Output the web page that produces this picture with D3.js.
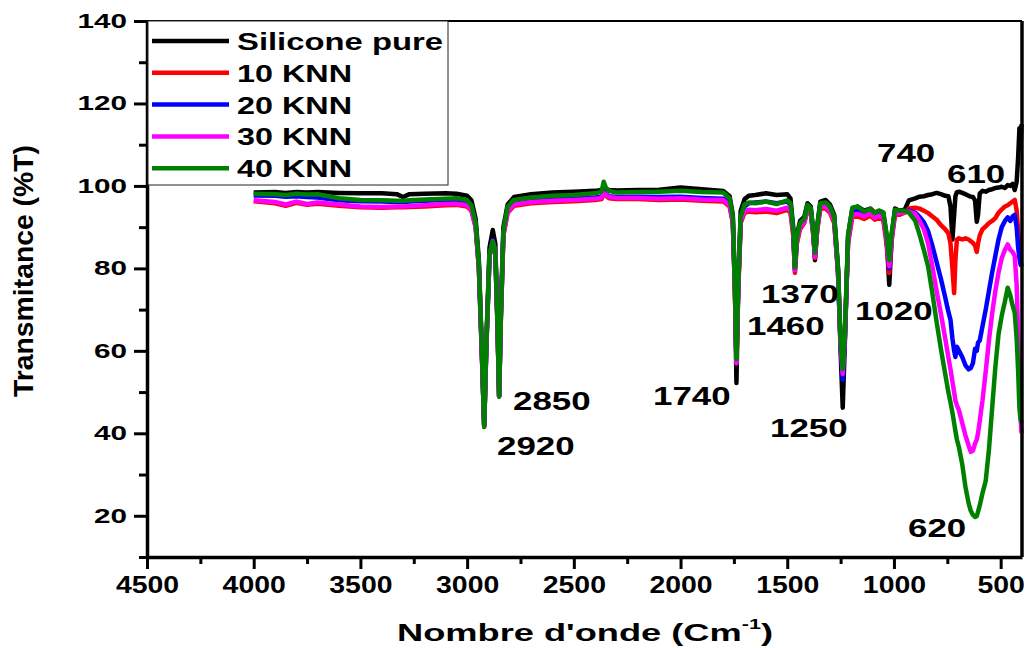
<!DOCTYPE html>
<html>
<head>
<meta charset="utf-8">
<script src="https://cdn.jsdelivr.net/npm/d3@7"></script>
<style>
	body { margin: 0; background: #fff; }
	svg { display: block; }
	text { font-family: "Liberation Sans", Arial, sans-serif; font-weight: bold; fill: #000; }
</style>
</head>
<body>
<svg id="chart" width="1029" height="648"></svg>
<script>
// wavenumber grid shared by all spectra (cm-1)
var wn = [
	4000, 3900, 3850, 3800, 3750, 3700, 3600, 3500, 3400, 3330,
	3300, 3270, 3200, 3100, 3050, 3000, 2980, 2960, 2945, 2932,
	2920, 2910, 2895, 2880, 2868, 2858, 2850, 2842, 2830, 2810,
	2780, 2700, 2600, 2500, 2400, 2370, 2360, 2350, 2335, 2300,
	2200, 2100, 2000, 1900, 1800, 1770, 1755, 1745, 1738, 1730,
	1718, 1700, 1680, 1650, 1600, 1550, 1500, 1485, 1472, 1464,
	1455, 1440, 1420, 1405, 1390, 1378, 1370, 1360, 1345, 1320,
	1300, 1280, 1262, 1250, 1240, 1230, 1215, 1195, 1170, 1140,
	1110, 1090, 1070, 1050, 1035, 1022, 1010, 995, 975, 950,
	930, 900, 880, 860, 840, 820, 800, 780, 760, 745,
	735, 726, 718, 712, 705, 695, 680, 665, 650, 640,
	630, 620, 612, 606, 598, 585, 570, 555, 540, 525,
	510, 495, 480, 467, 455, 444, 434, 425, 418, 412,
	407, 402
];

// transmittance (%T)
var pure = [
	98.4, 98.5, 98.3, 98.5, 98.4, 98.5, 98.3, 98.2, 98.2, 98.0,
	97.3, 98.0, 98.1, 98.2, 98.1, 97.6, 96.5, 92, 82, 62,
	42, 62, 85, 89.3, 86, 68, 49, 70, 90, 95.5,
	97.3, 98.0, 98.4, 98.6, 98.8, 99, 99.5, 99.3, 99, 98.9,
	99.0, 99.1, 99.6, 99.2, 98.8, 97.5, 93, 75, 52.2, 75,
	94, 96.8, 97.6, 97.8, 98.2, 97.8, 98.0, 97, 90, 80.5,
	88, 91.5, 92.5, 95.8, 95, 89, 82, 90, 96.2, 96.6,
	95.5, 93, 80, 60, 46.2, 62, 88, 94.5, 95, 94,
	94.5, 93.5, 94, 93.5, 88, 76, 88, 94.5, 94, 94.2,
	96.5, 97, 97.4, 97.5, 97.8, 98, 98.3, 98, 97.6, 97.5,
	95, 87, 93, 97.5, 98.5, 98.6, 98.3, 98, 97.6, 97.4,
	97.3, 96.5, 91.3, 93, 98.2, 98.8, 98.6, 99, 99.2, 99.5,
	99.6, 99.8, 99.5, 100.2, 100, 100.5, 99, 101, 107, 114,
	109, 115
];
var knn10 = [
	96.3, 95.8, 95.2, 95.9, 95.4, 95.7, 95.2, 94.8, 94.7, 94.8,
	94.8, 94.9, 95.0, 95.3, 95.4, 95.0, 94, 90, 80, 61,
	41.8, 61, 83, 86.5, 84, 67, 49, 68, 88, 93.5,
	95.2, 95.8, 96.1, 96.3, 96.6, 96.8, 98, 97.6, 97, 96.8,
	96.8, 96.6, 96.7, 96.4, 96.2, 95, 91, 74, 57, 74,
	91, 93.5, 93.8, 93.6, 93.8, 93.4, 94.2, 93.5, 88, 78.9,
	86, 89.5, 91, 94.2, 93.5, 88, 82.5, 89, 94.5, 94.5,
	93.5, 91, 79, 62, 54.5, 64, 86, 92.5, 92.6, 92,
	92.8, 91.8, 92.3, 91.8, 86, 78.9, 87, 93, 93, 93.5,
	94.5, 94.7, 94.5, 94, 93.4, 92.6, 91.8, 90.5, 89.5, 88.5,
	86, 80, 74, 82, 87, 87.3, 87, 87.3, 87, 86.6,
	86.2, 85.5, 84, 86, 88, 89.5, 90.2, 91, 91.5, 92.2,
	93.5, 94.3, 95, 95.3, 95.8, 96.2, 96.6, 94, 89, 85,
	82, 80.5
];
var knn20 = [
	97.7, 97.6, 97.4, 97.5, 97.3, 97.2, 96.5, 96.3, 96.2, 96.1,
	96.1, 96.2, 96.4, 96.6, 96.7, 96.3, 95, 90.5, 80.5, 61,
	41.8, 61, 83, 86.8, 84, 67, 49, 68, 88.5, 94.5,
	96, 96.5, 96.8, 97, 97.2, 97.4, 98.5, 98, 97.5, 97.3,
	97.4, 97.3, 97.4, 97.1, 96.9, 95.8, 91.5, 75, 57.2, 75,
	92, 95, 95.8, 96, 96.2, 95.8, 96.2, 95.5, 89, 79.5,
	87, 90.5, 91.5, 95, 94.2, 88.5, 83, 89.5, 95.5, 95.7,
	94.5, 92, 79, 61, 53, 63, 87, 93.8, 94.2, 93.3,
	93.8, 92.8, 93.3, 92.8, 87.5, 80, 88, 93.8, 93.6, 93.8,
	94, 93.5, 92.5, 91.2, 89, 85.5, 81.5, 77.5, 73, 69.5,
	67.5, 63, 60, 58.5, 61, 60, 58.5, 56.5, 55.5, 55.8,
	57, 60.5, 60, 62, 62.5, 66, 70, 74.5, 79, 83,
	87, 90, 91.5, 92.4, 91.5, 92.6, 93, 90, 85, 82.5,
	81, 80.5
];
var knn30 = [
	96.5, 96.1, 95.5, 96.2, 95.6, 96, 95.5, 95, 94.9, 95,
	95, 95.1, 95.3, 95.6, 95.7, 95.3, 94.2, 90, 80, 61,
	41.8, 61, 83, 86.6, 84, 67, 49, 68, 88, 93.8,
	95.5, 96.1, 96.4, 96.6, 96.9, 97.1, 98.3, 97.8, 97.3, 97.1,
	97.1, 96.9, 97, 96.7, 96.6, 95.3, 91.2, 74.5, 57, 74.5,
	91.5, 94, 94.2, 94.1, 94.4, 94, 94.7, 94, 88.5, 79.5,
	86.5, 90, 91.2, 94.6, 93.8, 88.2, 82.8, 89.2, 95, 95,
	94, 91.5, 79, 61.5, 54.4, 63.5, 86.5, 93, 93.2, 92.6,
	93.3, 92.3, 92.8, 92.3, 87, 80.5, 87.5, 93.5, 93.4, 93.6,
	93.8, 93.2, 91.5, 89.5, 86, 80.5, 74.5, 69, 63, 58.5,
	55.5, 52.5, 50, 48, 46.8, 45.5, 42.5, 39.5, 37, 35.5,
	35.8, 37.5, 38.5, 40, 43, 48, 55, 62.5, 69, 74.5,
	79, 82.5, 84.5, 85.8, 84.5, 84, 83, 76, 64, 52,
	44, 40
];
var knn40 = [
	98.1, 98.0, 97.8, 98.1, 97.9, 98.0, 97, 96.6, 96.5, 96.4,
	96.4, 96.5, 96.7, 96.9, 97, 96.6, 95.3, 91, 81, 61.5,
	41.5, 61.5, 83.5, 86.5, 84, 67, 48.9, 68, 89, 95,
	96.6, 97.2, 97.6, 97.8, 98.2, 98.6, 101, 99.6, 98.8, 98.4,
	98.5, 98.6, 98.8, 98.5, 98.4, 97, 92.5, 75.5, 58, 75.5,
	92.5, 95.5, 96, 95.8, 96.2, 95.6, 96.5, 95.8, 89.5, 80.2,
	87.5, 91, 92, 95.4, 94.6, 89, 83.8, 90, 95.8, 96,
	95, 92.5, 80, 62.5, 55.6, 64.5, 88, 94.7, 95, 93.8,
	94.4, 93.4, 94, 93.6, 88.5, 82, 89, 94.2, 94, 94,
	93.5, 91.5, 88.2, 84.5, 80.5, 74, 67, 60.5, 54.5, 50,
	47.5, 45, 42.5, 40.5, 38.5, 36.5, 32.5, 27, 23, 21.2,
	20.2, 19.7, 19.9, 21, 22.5, 25.5, 28.5, 36, 46, 56,
	64, 68.5, 72, 75.3, 73.5, 71, 69.2, 63, 55, 46,
	43.5, 42.5
];

var seriesNames = ['Silicone pure', '10 KNN', '20 KNN', '30 KNN', '40 KNN'];
var seriesColors = ['#000000', '#ff0000', '#0000ff', '#ff00ff', '#008000'];
var seriesValues = [pure, knn10, knn20, knn30, knn40];

var xTicks = [4500, 4000, 3500, 3000, 2500, 2000, 1500, 1000, 500];
var xMinor = [4250, 3750, 3250, 2750, 2250, 1750, 1250, 750];
var yTicks = [20, 40, 60, 80, 100, 120, 140];
var yMinor = [10, 30, 50, 70, 90, 110, 130];

var peakLabels = ['2920', '2850', '1740', '1460', '1370', '1250', '1020', '740', '610', '620'];


// stretch a text to a given width, the original glyphs are wide
function fitText(sel, len) {
	sel.attr('textLength', len).attr('lengthAdjust', 'spacingAndGlyphs');
}

function drawChart() {
	var svg = d3.select('#chart');

	var x = d3.scaleLinear().domain([4500, 400]).range([147, 1022]);
	var y = d3.scaleLinear().domain([10, 140]).range([557, 21]);

	// spectra, green drawn last like the original
	var line = d3.line()
		.x(function(d) { return x(d[0]); })
		.y(function(d) { return y(d[1]); });

	seriesValues.forEach(function(vals, i) {
		var pts = wn.map(function(w, j) { return [w, vals[j]]; });
		svg.append('path')
			.datum(pts)
			.attr('fill', 'none')
			.attr('stroke', seriesColors[i])
			.attr('stroke-width', 4.5)
			.attr('stroke-linejoin', 'round')
			.attr('d', line);
	});

	// frame top and right
	svg.append('line')
		.attr('x1', x(4500)).attr('x2', x(400))
		.attr('y1', y(140)).attr('y2', y(140))
		.attr('stroke', '#000').attr('stroke-width', 2);
	svg.append('line')
		.attr('x1', x(400)).attr('x2', x(400))
		.attr('y1', y(140)).attr('y2', y(10))
		.attr('stroke', '#000').attr('stroke-width', 3.5);

	var fmt = d3.format('d');

	// x axis
	var gx = svg.append('g')
		.attr('transform', 'translate(0,' + y(10) + ')')
		.call(d3.axisBottom(x).tickValues(xTicks).tickFormat(fmt).tickSize(12).tickSizeOuter(0).tickPadding(7));
	svg.append('g')
		.attr('transform', 'translate(0,' + y(10) + ')')
		.call(d3.axisBottom(x).tickValues(xMinor).tickSize(7).tickSizeOuter(0).tickFormat(''))
		.select('.domain').remove();

	// y axis
	var gy = svg.append('g')
		.attr('transform', 'translate(' + x(4500) + ',0)')
		.call(d3.axisLeft(y).tickValues(yTicks).tickFormat(fmt).tickSize(13).tickSizeOuter(0).tickPadding(7));
	svg.append('g')
		.attr('transform', 'translate(' + x(4500) + ',0)')
		.call(d3.axisLeft(y).tickValues(yMinor).tickSize(8).tickSizeOuter(0).tickFormat(''))
		.select('.domain').remove();

	svg.selectAll('.domain').attr('stroke', '#000').attr('stroke-width', 3.5);
	svg.selectAll('.tick line').attr('stroke', '#000').attr('stroke-width', 3);

	gx.selectAll('.tick text')
		.style('font-size', '24px')
		.each(function() {
			fitText(d3.select(this), this.textContent.length * 15.8);
		});
	gy.selectAll('.tick text')
		.style('font-size', '20px')
		.each(function() {
			fitText(d3.select(this), this.textContent.length * 16.5);
		});

	// legend
	var legend = svg.append('g');
	legend.append('rect')
		.attr('x', 148).attr('y', 21)
		.attr('width', 300).attr('height', 164)
		.attr('fill', '#fff')
		.attr('stroke', '#222').attr('stroke-width', 1);
	seriesNames.forEach(function(name, i) {
		var ly = 41 + i * 31.8;
		legend.append('line')
			.attr('x1', 152).attr('x2', 229)
			.attr('y1', ly).attr('y2', ly)
			.attr('stroke', seriesColors[i])
			.attr('stroke-width', 4.5);
		var t = legend.append('text')
			.attr('x', 237).attr('y', ly + 9)
			.style('font-size', '23px')
			.text(name);
		fitText(t, i == 0 ? 206 : 115);
	});

	// peak annotations (left edge, baseline)
	var labelPos = [[497, 455], [513, 410], [653, 405], [747, 335], [761, 303],
		[770, 437], [855, 320], [877, 162], [947, 183], [908, 537]];
	peakLabels.forEach(function(lab, i) {
		var t = svg.append('text')
			.attr('x', labelPos[i][0]).attr('y', labelPos[i][1])
			.style('font-size', '26px')
			.text(lab);
		fitText(t, lab.length * 19.4);
	});

	// axis titles
	var xt = svg.append('text')
		.attr('x', 397).attr('y', 641)
		.style('font-size', '23.5px');
	xt.append('tspan').text("Nombre d'onde (Cm");
	xt.append('tspan').attr('dy', -12).style('font-size', '14px').text('-1');
	xt.append('tspan').attr('dy', 12).text(')');
	fitText(xt, 376);

	var yt = svg.append('text')
		.attr('transform', 'translate(33,397) rotate(-90)')
		.style('font-size', '28px')
		.text('Transmitance (%T)');
	fitText(yt, 252);
}

document.addEventListener('DOMContentLoaded', drawChart, false);
</script>
</body>
</html>
